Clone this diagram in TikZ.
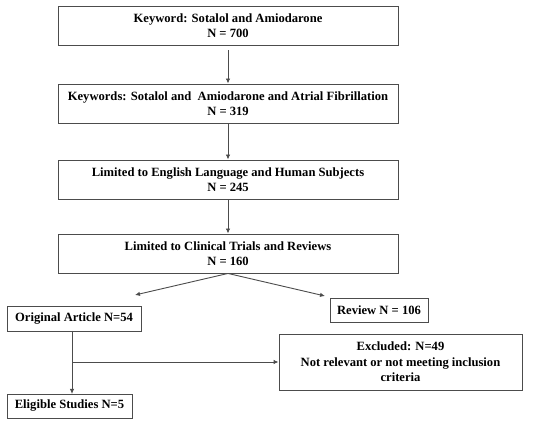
\documentclass[tikz,border=0pt]{standalone}
\usepackage{fontspec}
\setmainfont{Liberation Serif}
\usetikzlibrary{arrows.meta}
\begin{document}
\begin{tikzpicture}[x=1pt,y=-1pt,
  box/.style={draw=black!70,line width=0.9pt,fill=white,inner sep=0pt,align=center,font=\bfseries\fontsize{12.6}{15.5}\selectfont},
  conn/.style={draw=black!70,line width=0.9pt,-{Latex[length=5pt,width=4.5pt]}}]
\useasboundingbox[fill=white] (0,0) rectangle (550,422);
\node[box,minimum width=340pt,minimum height=39pt] (b1) at (228,25.5) {Keyword: Sotalol and Amiodarone\\N = 700};
\node[box,minimum width=340pt,minimum height=39pt] (b2) at (228,103.5) {Keywords: Sotalol and\ \ Amiodarone and Atrial Fibrillation\\N = 319};
\node[box,minimum width=340pt,minimum height=39pt] (b3) at (228,179.5) {Limited to English Language and Human Subjects\\N = 245};
\node[box,minimum width=340pt,minimum height=39pt] (b4) at (228,253.5) {Limited to Clinical Trials and Reviews\\N = 160};
\node[box,minimum width=98pt,minimum height=24pt] (rev) at (379,310) {Review N = 106};
\node[box,minimum width=134pt,minimum height=25pt] (orig) at (74,318.5) {Original Article N=54};
\node[box,minimum width=243pt,minimum height=56pt] (exc) at (400.5,362) {Excluded: N=49\\Not relevant or not meeting inclusion\\criteria};
\node[box,minimum width=125pt,minimum height=24pt] (elig) at (69.5,406) {Eligible Studies N=5};
\coordinate (l1) at (135,295);
\coordinate (r1) at (325,296);
\coordinate (os) at (72,331);
\coordinate (es) at (72,394);
\coordinate (br) at (72,362);
\draw[conn,shorten <=5pt] (b1.south) -- (b2.north);
\draw[conn] (b2.south) -- (b3.north);
\draw[conn] (b3.south) -- (b4.north);
\draw[conn] (b4.south) -- (l1);
\draw[conn] (b4.south) -- (r1);
\draw[conn] (os) -- (es);
\draw[conn] (br) -- (exc.west);
\end{tikzpicture}
\end{document}
